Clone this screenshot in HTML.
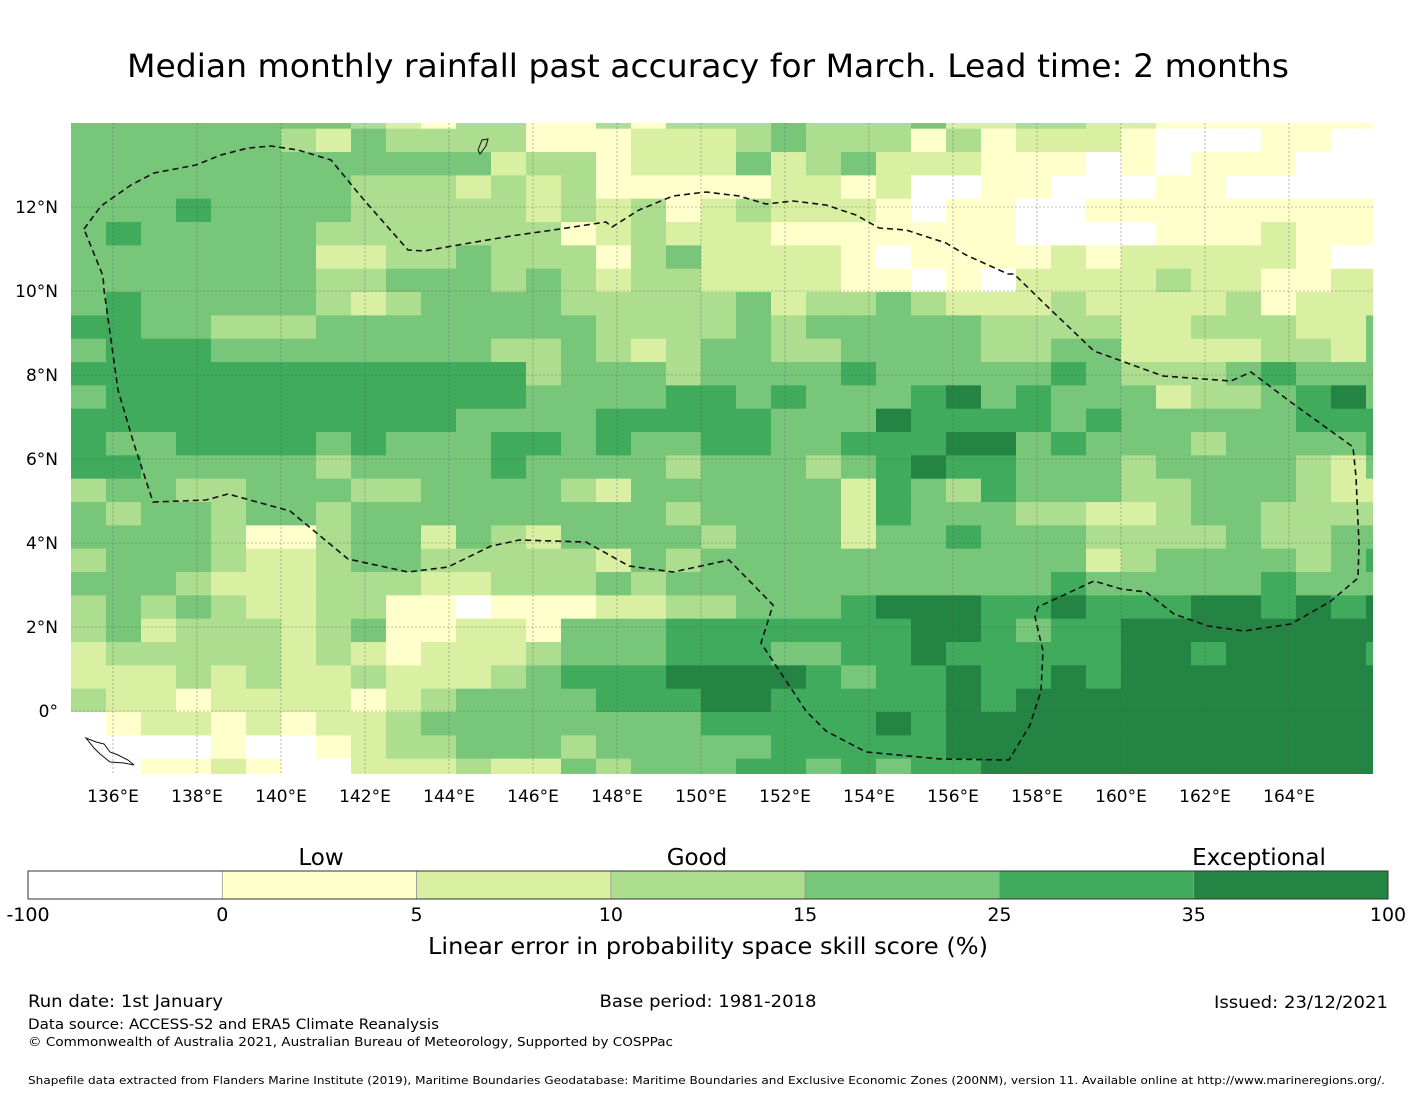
<!DOCTYPE html>
<html><head><meta charset="utf-8">
<style>
html,body{margin:0;padding:0;background:#fff;}
svg{display:block;font-family:"DejaVu Sans","Liberation Sans",sans-serif;}
</style></head>
<body>
<svg id="chart" width="1416" height="1095" viewBox="0 0 1416 1095" xmlns="http://www.w3.org/2000/svg">
<text x="708" y="77" text-anchor="middle" font-size="32" textLength="1162" lengthAdjust="spacingAndGlyphs">Median monthly rainfall past accuracy for March. Lead time: 2 months</text>
<defs><clipPath id="mapclip"><rect x="71" y="123" width="1302" height="651"/></clipPath></defs>
<g id="cells" clip-path="url(#mapclip)"></g>
<g id="grid"></g>
<path d="M84,229 L101,206 L131,185 L154,173 L196,165 L221,155 L248,148 L271,146 L298,150 L331,160 L364,200 L408,250 L424,251 L458,245 L511,236 L560,229 L606,222 L612,227 L639,210 L673,196 L706,192 L739,196 L766,204 L793,201 L826,205 L856,215 L879,228 L906,230 L946,243 L966,255 L1008,274 L1014,274 L1051,310 L1094,351 L1163,376 L1231,381 L1251,372 L1288,400 L1353,447 L1356,477 L1359,544 L1358,578 L1331,601 L1291,624 L1244,631 L1208,626 L1174,614 L1146,592 L1121,589 L1094,581 L1038,607 L1035,617 L1043,651 L1041,691 L1030,725 L1009,760 L941,759 L866,752 L826,731 L806,711 L761,643 L773,605 L729,560 L673,572 L629,566 L586,542 L519,540 L506,543 L491,546 L448,567 L408,572 L348,559 L290,511 L228,494 L206,500 L153,502 L134,444 L118,390 L104,290 L103,276 Z" fill="none" stroke="#111" stroke-width="1.6" stroke-dasharray="6,4"/>
<path d="M478,150 L482,140 L488,139 L486,146 L480,154 Z" fill="none" stroke="#111" stroke-width="1"/>
<path d="M86,738 L96,742 L104,744 L110,752 L118,755 L128,760 L134,765 L124,763 L110,762 L100,754 L94,748 Z" fill="none" stroke="#111" stroke-width="1"/>
<g id="xticks" font-size="17" text-anchor="middle"></g>
<g id="yticks" font-size="17" text-anchor="end"></g>
<g id="cbar"></g>
<text x="321" y="865" text-anchor="middle" font-size="23">Low</text>
<text x="697" y="865" text-anchor="middle" font-size="23">Good</text>
<text x="1259" y="865" text-anchor="middle" font-size="23">Exceptional</text>
<text x="708" y="954" text-anchor="middle" font-size="23" textLength="560" lengthAdjust="spacingAndGlyphs">Linear error in probability space skill score (%)</text>
<text x="28" y="1007" font-size="17" textLength="195" lengthAdjust="spacingAndGlyphs">Run date: 1st January</text>
<text x="708" y="1007" text-anchor="middle" font-size="17" textLength="217" lengthAdjust="spacingAndGlyphs">Base period: 1981-2018</text>
<text x="1388" y="1008" text-anchor="end" font-size="17" textLength="174" lengthAdjust="spacingAndGlyphs">Issued: 23/12/2021</text>
<text x="28" y="1029" font-size="14" textLength="411" lengthAdjust="spacingAndGlyphs">Data source: ACCESS-S2 and ERA5 Climate Reanalysis</text>
<text x="28" y="1046" font-size="12.5" textLength="645" lengthAdjust="spacingAndGlyphs">© Commonwealth of Australia 2021, Australian Bureau of Meteorology, Supported by COSPPac</text>
<text x="28" y="1084" font-size="11" textLength="1357" lengthAdjust="spacingAndGlyphs">Shapefile data extracted from Flanders Marine Institute (2019), Maritime Boundaries Geodatabase: Maritime Boundaries and Exclusive Economic Zones (200NM), version 11. Available online at http://www.marineregions.org/.</text>
</svg>
<script>
// skill category per cell (0=<0, 1=0-5, 2=5-10, 3=10-15, 4=15-25, 5=25-35, 6=35-100); rows north to south, columns west to east
const gridRows = [
"44444444321331131333433342233221111111",
"44444432433331112223433313122210001100",
"44444444444423312224234222111010111000",
"44444444333232311111221200110001100000",
"44454444333332323123222101100111111111",
"45444443333333123222111111100001112111",
"44444442233433313422221011112122222100",
"44444443344434323322221101022223221122",
"45444443234444333334233432223222231222",
"55443334444444433334344444333322333224",
"45554444444433432344334444334422223324",
"55555555555553444344445444445433345444",
"45555555555554444554544456454442334564",
"55555555555444455555444655554544444555",
"54455554544455454455445556645444344445",
"55444443444454444344434565544434444324",
"34433444334444324444442543544433444322",
"43443443444444444344442544433223443333",
"44443113442432444434442445444333343344",
"34443223443333324344444444444234444345",
"44432223332233343444444444445444445444",
"34343223311011122334445666556555665656",
"34233323411221444555555566545566666666",
"23333323212223444555445565555566566665",
"22232322322234555666654556556566666666",
"32212222123444455566555556566666666666",
"01221212234444444455555656666666666666",
"00001001233444344444555556666666666666",
"00112100222322434445545455666666666666"
];
const classColors = ["#ffffff","#ffffcc","#d9f0a3","#addd8e","#78c679","#41ab5d","#238443"];
const lonTicks = [136,138,140,142,144,146,148,150,152,154,156,158,160,162,164];
const latTicks = [12,10,8,6,4,2,0];
const cbarLabels = ["-100","0","5","10","15","25","35","100"];

const lonStart = 135, lonStep = 5/6, latTop = 14.42, latStep = 5/9;
function xScale(lon){ return 113 + (lon - 136) * 42; }
function yScale(lat){ return 711 - lat * 42; }
const NS = "http://www.w3.org/2000/svg";

const cellsG = document.getElementById("cells");
gridRows.forEach((row, r) => {
  for (let c = 0; c < row.length; c++) {
    const v = +row[c];
    const x0 = xScale(lonStart + c * lonStep), x1 = xScale(lonStart + (c + 1) * lonStep);
    const y0 = yScale(latTop - r * latStep), y1 = yScale(latTop - (r + 1) * latStep);
    const rect = document.createElementNS(NS, "rect");
    rect.setAttribute("x", x0.toFixed(2));
    rect.setAttribute("y", y0.toFixed(2));
    rect.setAttribute("width", (x1 - x0 + 0.5).toFixed(2));
    rect.setAttribute("height", (y1 - y0 + 0.5).toFixed(2));
    rect.setAttribute("fill", classColors[v]);
    
    
    cellsG.appendChild(rect);
  }
});

const gridG = document.getElementById("grid");
const xt = document.getElementById("xticks");
lonTicks.forEach(lon => {
  const x = xScale(lon);
  const l = document.createElementNS(NS, "line");
  l.setAttribute("x1", x); l.setAttribute("x2", x);
  l.setAttribute("y1", 123); l.setAttribute("y2", 774);
  l.setAttribute("stroke", "#555"); l.setAttribute("stroke-width", "0.6");
  l.setAttribute("stroke-dasharray", "2,2"); l.setAttribute("opacity", "0.7");
  
  
  gridG.appendChild(l);
  const t = document.createElementNS(NS, "text");
  t.setAttribute("x", x); t.setAttribute("y", 802);
  t.textContent = lon + "°E";
  
  
  xt.appendChild(t);
});
const yt = document.getElementById("yticks");
latTicks.forEach(lat => {
  const y = yScale(lat);
  const l = document.createElementNS(NS, "line");
  l.setAttribute("x1", 71); l.setAttribute("x2", 1373);
  l.setAttribute("y1", y); l.setAttribute("y2", y);
  l.setAttribute("stroke", "#555"); l.setAttribute("stroke-width", "0.6");
  l.setAttribute("stroke-dasharray", "2,2"); l.setAttribute("opacity", "0.7");
  
  
  gridG.appendChild(l);
  const t = document.createElementNS(NS, "text");
  t.setAttribute("x", 58); t.setAttribute("y", y + 6);
  t.textContent = lat === 0 ? "0°" : lat + "°N";
  
  
  yt.appendChild(t);
});

const cb = document.getElementById("cbar");
const cbX0 = 28, cbX1 = 1388, cbY = 871, cbH = 28;
const segW = (cbX1 - cbX0) / classColors.length;
classColors.forEach((col, i) => {
  const r = document.createElementNS(NS, "rect");
  r.setAttribute("x", cbX0 + i * segW); r.setAttribute("y", cbY);
  r.setAttribute("width", segW); r.setAttribute("height", cbH);
  r.setAttribute("fill", col);
  r.setAttribute("stroke", i ? "#999" : "none"); r.setAttribute("stroke-width", "0.8");
  
  
  cb.appendChild(r);
});
const frame = document.createElementNS(NS, "rect");
frame.setAttribute("x", cbX0); frame.setAttribute("y", cbY);
frame.setAttribute("width", cbX1 - cbX0); frame.setAttribute("height", cbH);
frame.setAttribute("fill", "none"); frame.setAttribute("stroke", "#333"); frame.setAttribute("stroke-width", "1");


cb.appendChild(frame);
cbarLabels.forEach((lab, i) => {
  const t = document.createElementNS(NS, "text");
  t.setAttribute("x", cbX0 + i * segW); t.setAttribute("y", 921);
  t.setAttribute("text-anchor", "middle"); t.setAttribute("font-size", "19");
  t.textContent = lab;
  
  
  cb.appendChild(t);
});
</script>
</body></html>
